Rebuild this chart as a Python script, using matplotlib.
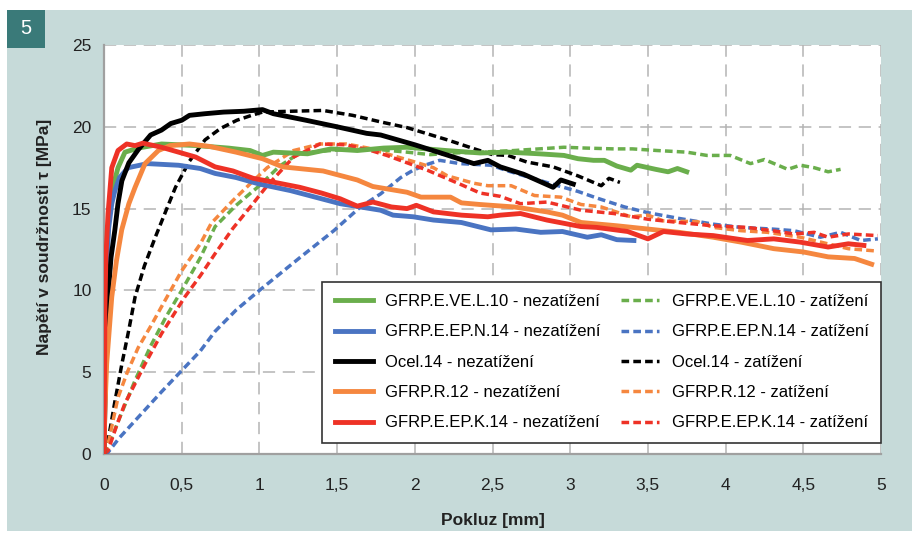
import matplotlib
matplotlib.use("Agg")
import matplotlib.pyplot as plt
from matplotlib.patches import Rectangle
from matplotlib.ticker import FuncFormatter

plt.rcParams['font.family'] = ['Liberation Sans', 'DejaVu Sans']

# ---------------- data ----------------
green_s_x = [0, 0.005, 0.015, 0.04, 0.09, 0.135, 0.22, 0.37, 0.6, 0.8, 0.94, 1.02, 1.09, 1.2, 1.31, 1.46, 1.63, 1.8, 1.95, 2.2, 2.42, 2.6, 2.8, 2.96, 3.05, 3.15, 3.22, 3.3, 3.39, 3.43, 3.55, 3.63, 3.69, 3.75]
green_s_y = [0, 7, 12, 15.7, 17.5, 18.45, 18.7, 18.95, 18.85, 18.7, 18.55, 18.25, 18.45, 18.4, 18.35, 18.65, 18.55, 18.7, 18.75, 18.55, 18.4, 18.45, 18.35, 18.25, 18.05, 17.95, 17.95, 17.6, 17.35, 17.65, 17.4, 17.25, 17.45, 17.25]

green_d_x = [0, 0.05, 0.1, 0.2, 0.3, 0.4, 0.5, 0.62, 0.715, 0.85, 1.0, 1.13, 1.26, 1.4, 1.585, 1.78, 1.95, 2.1, 2.25, 2.42, 2.64, 2.8, 2.96, 3.1, 3.28, 3.4, 3.56, 3.75, 3.88, 4.03, 4.16, 4.25, 4.4, 4.48, 4.57, 4.66, 4.74]
green_d_y = [0, 1.0, 2.2, 4.5, 6.6, 8.4, 10.0, 12.0, 13.9, 15.2, 16.4, 17.6, 18.4, 18.5, 18.65, 18.6, 18.45, 18.3, 18.4, 18.45, 18.55, 18.65, 18.75, 18.7, 18.65, 18.65, 18.55, 18.45, 18.25, 18.25, 17.75, 18.0, 17.4, 17.65, 17.5, 17.25, 17.4]

blue_s_x = [0, 0.005, 0.015, 0.03, 0.05, 0.07, 0.1, 0.155, 0.28, 0.48, 0.62, 0.715, 0.85, 1.0, 1.2, 1.52, 1.78, 1.86, 1.99, 2.12, 2.3, 2.49, 2.65, 2.81, 2.95, 3.11, 3.2, 3.3, 3.41]
blue_s_y = [0, 6, 11, 13.8, 15.3, 16.1, 16.9, 17.5, 17.75, 17.65, 17.45, 17.15, 16.9, 16.5, 16.1, 15.3, 14.9, 14.6, 14.5, 14.3, 14.15, 13.7, 13.75, 13.55, 13.6, 13.25, 13.4, 13.1, 13.05]

blue_d_x = [0, 0.026, 0.1, 0.24, 0.37, 0.5, 0.62, 0.715, 0.85, 1.0, 1.13, 1.26, 1.48, 1.65, 1.78, 1.91, 1.99, 2.08, 2.16, 2.29, 2.49, 2.6, 2.74, 2.92, 3.05, 3.17, 3.35, 3.5, 3.7, 3.92, 4.1, 4.3, 4.44, 4.61, 4.74, 4.87, 4.98]
blue_d_y = [0, 0.1, 1.0, 2.45, 3.8, 5.1, 6.3, 7.5, 8.8, 10.0, 11.0, 12.0, 13.66, 15.1, 15.9, 16.9, 17.35, 17.7, 17.95, 17.75, 17.65, 17.3, 16.9, 16.4, 16.05, 15.65, 15.1, 14.75, 14.4, 14.05, 13.85, 13.75, 13.65, 13.25, 13.55, 13.05, 13.15]

black_s_x = [0, 0.01, 0.026, 0.045, 0.07, 0.09, 0.115, 0.16, 0.22, 0.3, 0.37, 0.43, 0.5, 0.55, 0.65, 0.77, 0.9, 1.02, 1.09, 1.3, 1.5, 1.69, 1.78, 2.0, 2.2, 2.38, 2.47, 2.55, 2.7, 2.89, 2.94, 3.02]
black_s_y = [0, 5, 9.6, 12, 13.7, 15.3, 16.7, 17.8, 18.6, 19.5, 19.8, 20.2, 20.4, 20.7, 20.8, 20.9, 20.95, 21.05, 20.8, 20.4, 20.0, 19.6, 19.5, 18.9, 18.3, 17.75, 17.95, 17.55, 17.1, 16.3, 16.75, 16.5]

black_d_x = [0, 0.026, 0.07, 0.115, 0.16, 0.2, 0.26, 0.33, 0.4, 0.46, 0.55, 0.65, 0.75, 0.855, 0.95, 1.02, 1.2, 1.41, 1.6, 1.78, 1.95, 2.21, 2.4, 2.5, 2.6, 2.72, 2.89, 3.05, 3.2, 3.25, 3.32]
black_d_y = [0, 0.8, 3.2, 5.5, 7.6, 9.6, 11.5, 13.25, 14.9, 16.3, 17.9, 19.2, 19.9, 20.4, 20.7, 20.9, 20.95, 21.0, 20.7, 20.3, 19.95, 19.2, 18.6, 18.3, 18.25, 17.85, 17.55, 17.0, 16.4, 16.85, 16.6]

orange_s_x = [0, 0.005, 0.017, 0.05, 0.08, 0.114, 0.16, 0.2, 0.264, 0.35, 0.425, 0.55, 0.68, 0.85, 1.02, 1.15, 1.41, 1.63, 1.73, 1.95, 2.04, 2.23, 2.3, 2.42, 2.64, 2.85, 2.95, 3.07, 3.3, 3.5, 3.7, 3.92, 4.1, 4.31, 4.5, 4.66, 4.83, 4.94]
orange_s_y = [0, 2.5, 5.5, 9.6, 11.8, 13.7, 15.3, 16.3, 17.75, 18.55, 18.85, 18.95, 18.8, 18.45, 18.05, 17.55, 17.3, 16.75, 16.35, 16.0, 15.7, 15.7, 15.35, 15.25, 15.1, 14.8, 14.6, 14.15, 13.95, 13.75, 13.55, 13.25, 12.95, 12.55, 12.35, 12.05, 11.95, 11.6]

orange_d_x = [0, 0.026, 0.09, 0.15, 0.22, 0.3, 0.37, 0.5, 0.62, 0.69, 0.83, 0.95, 1.05, 1.22, 1.39, 1.56, 1.7, 1.82, 2.0, 2.12, 2.21, 2.38, 2.47, 2.62, 2.77, 2.94, 3.07, 3.2, 3.39, 3.5, 3.6, 3.82, 3.92, 4.1, 4.27, 4.48, 4.57, 4.7, 4.79, 4.98]
orange_d_y = [0, 0.6, 3.45, 5.0, 6.5, 7.8, 9.0, 11.2, 12.85, 14.1, 15.5, 16.6, 17.5, 18.55, 18.95, 18.95, 18.7, 18.35, 17.85, 17.5, 17.0, 16.55, 16.4, 16.4, 15.8, 15.7, 15.25, 15.1, 14.5, 14.6, 14.25, 14.2, 13.85, 13.65, 13.55, 13.25, 13.05, 12.75, 12.55, 12.4]

red_s_x = [0, 0.003, 0.006, 0.012, 0.026, 0.05, 0.09, 0.146, 0.2, 0.25, 0.37, 0.59, 0.715, 0.83, 0.96, 1.1, 1.26, 1.4, 1.52, 1.63, 1.73, 1.85, 1.95, 2.01, 2.12, 2.3, 2.47, 2.55, 2.68, 2.85, 2.96, 3.07, 3.17, 3.37, 3.5, 3.6, 3.75, 3.92, 4.14, 4.31, 4.48, 4.66, 4.79, 4.89]
red_s_y = [0, 4, 9.0, 12, 14.7, 17.5, 18.55, 18.95, 18.85, 19.0, 18.75, 18.15, 17.55, 17.3, 16.85, 16.6, 16.3, 15.95, 15.6, 15.15, 15.4, 15.1, 15.0, 15.2, 14.8, 14.6, 14.5, 14.6, 14.7, 14.3, 14.1, 13.9, 13.85, 13.6, 13.15, 13.6, 13.45, 13.35, 13.05, 13.15, 12.95, 12.65, 12.85, 12.75]

red_d_x = [0, 0.026, 0.08, 0.135, 0.2, 0.264, 0.37, 0.52, 0.62, 0.715, 0.83, 0.95, 1.05, 1.22, 1.39, 1.56, 1.7, 1.82, 2.08, 2.29, 2.42, 2.55, 2.68, 2.85, 3.07, 3.28, 3.5, 3.7, 3.92, 4.14, 4.3, 4.44, 4.57, 4.66, 4.79, 4.98]
red_d_y = [0, 0.2, 1.7, 3.1, 4.3, 5.5, 7.35, 9.6, 10.9, 12.25, 13.8, 15.2, 16.4, 18.15, 18.95, 18.9, 18.6, 18.25, 17.35, 16.5, 15.95, 15.75, 15.3, 15.4, 14.9, 14.7, 14.35, 14.15, 13.95, 13.85, 13.65, 13.45, 13.55, 13.25, 13.45, 13.35]

names = ["GFRP.E.VE.L.10", "GFRP.E.EP.N.14", "Ocel.14", "GFRP.R.12", "GFRP.E.EP.K.14"]
colors = ["#6aae4c", "#4a74c2", "#000000", "#f5873f", "#ee3226"]
solid = [(green_s_x, green_s_y), (blue_s_x, blue_s_y), (black_s_x, black_s_y),
         (orange_s_x, orange_s_y), (red_s_x, red_s_y)]
dashed = [(green_d_x, green_d_y), (blue_d_x, blue_d_y), (black_d_x, black_d_y),
          (orange_d_x, orange_d_y), (red_d_x, red_d_y)]

xticks = [0, 0.5, 1, 1.5, 2, 2.5, 3, 3.5, 4, 4.5, 5]
yticks = [0, 5, 10, 15, 20, 25]

# ---------------- figure ----------------
W, H = 919, 533
fig = plt.figure(figsize=(W / 100, H / 100), dpi=100)
fig.patch.set_facecolor("white")

panel_col = "#c6dad9"
fig.patches.append(Rectangle((7 / W, 1 - 531 / H), (912 - 7) / W, (531 - 10) / H,
                             transform=fig.transFigure, facecolor=panel_col,
                             edgecolor="none", zorder=-10))
fig.patches.append(Rectangle((7 / W, 1 - 48 / H), 38 / W, 38 / H,
                             transform=fig.transFigure, facecolor="#3a7a79",
                             edgecolor="none", zorder=-9))
fig.text(26 / W, 1 - 29 / H, "5", color="white", fontsize=14.5, ha="center", va="center")

ax = fig.add_axes([104 / W, 1 - 454 / H, (881 - 104) / W, (454 - 45) / H])
ax.set_zorder(2)
ax.set_facecolor("white")

dash_lw = 2.5
sol_lw = 3.5
handles_s, handles_d = [], []
for (dx, dy), c, n in zip(dashed, colors, names):
    ln, = ax.plot(dx, dy, color=c, lw=dash_lw, dashes=(2.2, 1.2),
                  solid_capstyle="butt", zorder=3, label=n + " - zatížení")
    handles_d.append(ln)
for (sx, sy), c, n in zip(solid, colors, names):
    ln, = ax.plot(sx, sy, color=c, lw=sol_lw, solid_joinstyle="round",
                  zorder=4, label=n + " - nezatížení")
    handles_s.append(ln)

ax.set_xlim(0, 5)
ax.set_ylim(0, 25)
ax.set_xticks(xticks)
ax.set_yticks(yticks)
ax.xaxis.set_major_formatter(FuncFormatter(lambda v, p: ("%g" % v).replace(".", ",")))
ax.tick_params(axis="both", length=0, labelsize=12.5, colors="#222222")
ax.tick_params(axis="x", pad=17)
ax.tick_params(axis="y", pad=9)
ax.grid(True, color="#b4b4b4", lw=1.1, linestyle=(0, (8, 5)), zorder=1)
ax.set_axisbelow(True)
for s in ["top", "right"]:
    ax.spines[s].set_visible(False)
for s in ["left", "bottom"]:
    ax.spines[s].set_color("#a0a0a0")
    ax.spines[s].set_linewidth(1.6)

ax.set_xlabel("Pokluz [mm]", fontsize=12.5, fontweight="bold", color="#222222", labelpad=15)
ax.set_ylabel("Napětí v soudržnosti τ [MPa]", fontsize=12.5, fontweight="bold",
              color="#222222")
ax.yaxis.set_label_coords(-0.067, 0.53)

leg_handles = handles_s + handles_d
leg = ax.legend(handles=leg_handles, loc="lower right", ncol=2,
                bbox_to_anchor=(1.0, 0.027), borderaxespad=0, fontsize=12,
                frameon=True, fancybox=False, edgecolor="#333333", framealpha=1,
                handlelength=2.3, handletextpad=0.75, columnspacing=1.2,
                labelspacing=0.92, borderpad=0.75)
leg.get_frame().set_linewidth(1.2)
leg.set_zorder(10)

fig.savefig("out.png", dpi=100, facecolor=fig.get_facecolor())
